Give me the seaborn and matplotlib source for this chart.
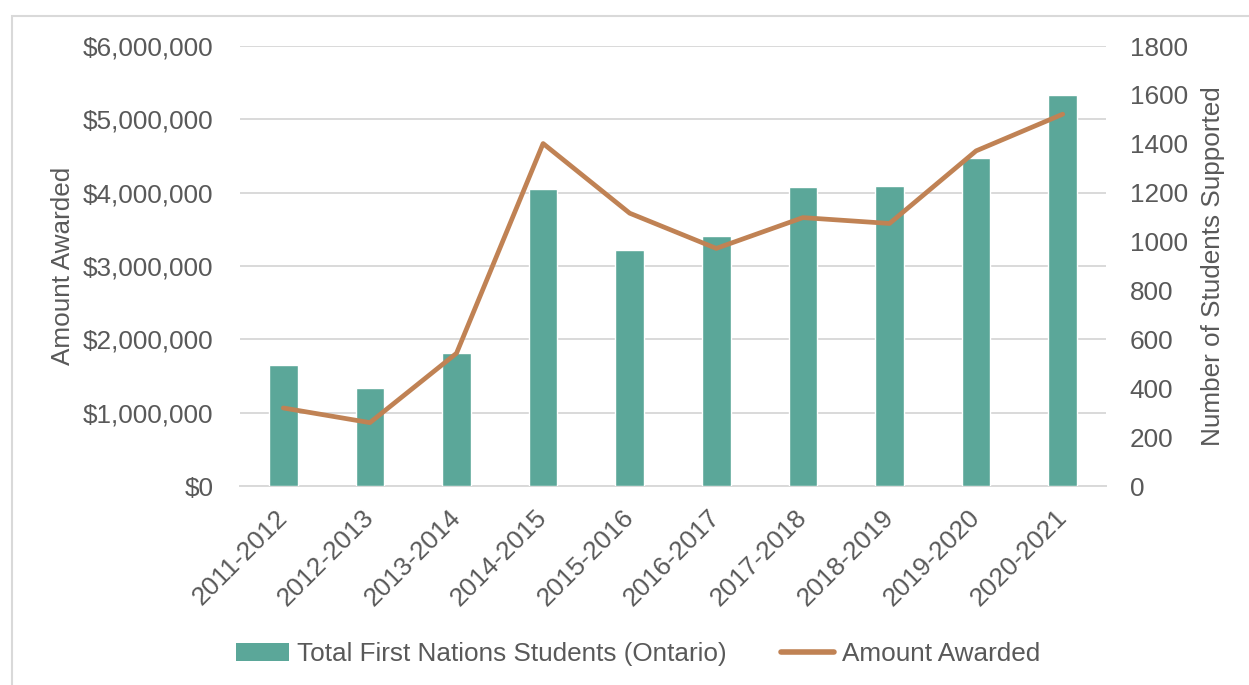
import numpy as np
import pandas as pd
import seaborn as sns
import matplotlib.pyplot as plt
from matplotlib.patches import Rectangle, Patch
from matplotlib.lines import Line2D
from matplotlib.ticker import FuncFormatter

# Data
years = ["2011-2012", "2012-2013", "2013-2014", "2014-2015", "2015-2016",
         "2016-2017", "2017-2018", "2018-2019", "2019-2020", "2020-2021"]
students = [495, 402, 545, 1215, 966, 1022, 1223, 1227, 1343, 1600]
amount = [1064000, 864000, 1810000, 4670000, 3720000,
          3240000, 3660000, 3580000, 4570000, 5070000]

BAR_COLOR = "#5ba799"
LINE_COLOR = "#c08254"
TEXT_COLOR = "#595959"
GRID_COLOR = "#d9d9d9"
FS = 18.8

sns.set_theme(style="white")
plt.rcParams["font.family"] = ["Liberation Sans", "DejaVu Sans"]

df = pd.DataFrame({"year": years, "students": students, "amount": amount})

fig = plt.figure(figsize=(12.49, 6.85), dpi=100)
ax = fig.add_subplot(111)
fig.subplots_adjust(left=240 / 1249, right=1106 / 1249,
                    bottom=1 - 486 / 685, top=1 - 46 / 685)
ax2 = ax.twinx()   # students (bars)
ax3 = ax.twinx()   # amount (line), kept on top of the bars

# bars on the students axis
sns.barplot(data=df, x="year", y="students", ax=ax2, color=BAR_COLOR,
            width=0.33, saturation=1, errorbar=None)
# line on the amount axis
sns.pointplot(data=df, x="year", y="amount", ax=ax3, color=LINE_COLOR,
              markers="", linewidth=3.4, errorbar=None)

ax.set_ylim(0, 6000000)
ax3.set_ylim(0, 6000000)
ax2.set_ylim(0, 1800)
ax.set_xlim(-0.5, len(years) - 0.5)

ax.set_yticks(np.arange(0, 6000001, 1000000))
ax.yaxis.set_major_formatter(FuncFormatter(lambda v, p: f"${v:,.0f}"))
ax2.set_yticks(np.arange(0, 1801, 200))
ax.grid(axis="y", color=GRID_COLOR, linewidth=1.4)
ax.set_axisbelow(True)

ax.set_xticks(range(len(years)))
ax.set_xticklabels(years, rotation=45, ha="right", va="center",
                   rotation_mode="anchor")

for a in (ax, ax2, ax3):
    for s in a.spines.values():
        s.set_visible(False)
    a.set_xlabel("")
    a.set_ylabel("")
ax.spines["bottom"].set_visible(True)
ax.spines["bottom"].set_color(GRID_COLOR)
ax.spines["bottom"].set_linewidth(1.4)
ax3.yaxis.set_visible(False)

ax.tick_params(axis="y", length=0, pad=19, labelsize=FS, labelcolor=TEXT_COLOR)
ax.tick_params(axis="x", length=0, pad=20, labelsize=FS, labelcolor=TEXT_COLOR)
ax2.tick_params(axis="y", length=0, pad=17, labelsize=FS, labelcolor=TEXT_COLOR)

ax.set_ylabel("Amount Awarded", fontsize=FS, color=TEXT_COLOR)
ax.yaxis.set_label_coords(-0.19, 0.5)
ax2.set_ylabel("Number of Students Supported", fontsize=FS, color=TEXT_COLOR)
ax2.yaxis.set_label_coords(1.11, 0.5)

handles = [Patch(facecolor=BAR_COLOR, edgecolor="none"),
           Line2D([0], [0], color=LINE_COLOR, linewidth=4)]
fig.legend(handles, ["Total First Nations Students (Ontario)", "Amount Awarded"],
           loc="center", bbox_to_anchor=(0.511, 1 - 654 / 685), ncol=2,
           frameon=False, fontsize=FS, labelcolor=TEXT_COLOR,
           handlelength=2.03, handletextpad=0.3, columnspacing=2.1)

# light chart frame
fig.add_artist(Rectangle((12 / 1249, -0.1), 1.2, 1.1 - 16 / 685,
                         transform=fig.transFigure, fill=False,
                         edgecolor=GRID_COLOR, linewidth=1.5))

fig.savefig("out.png", dpi=100)
